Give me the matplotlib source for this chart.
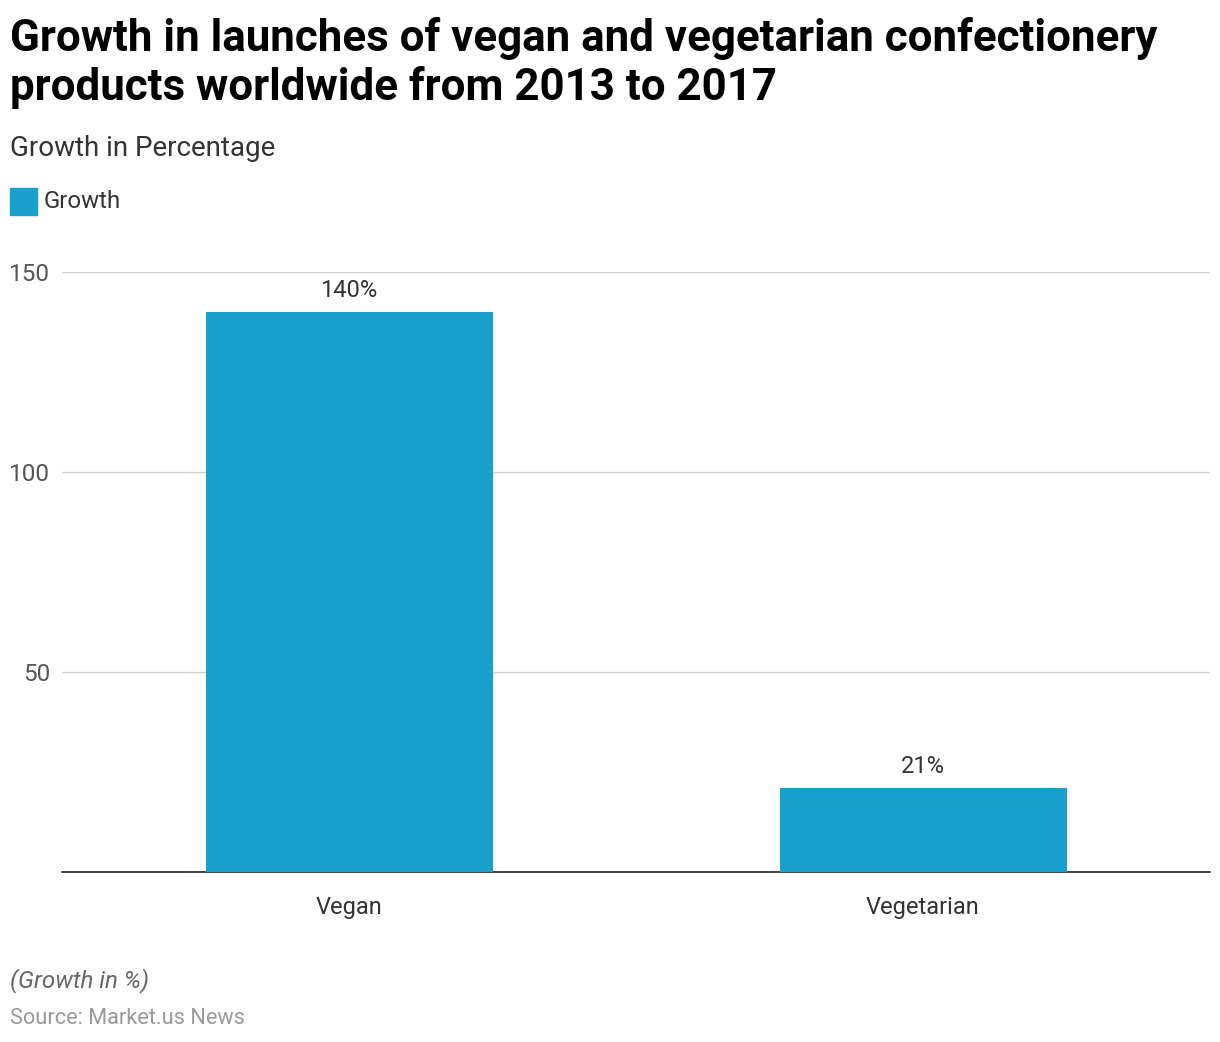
import matplotlib.pyplot as plt
from matplotlib.patches import Rectangle

plt.rcParams['font.family'] = ['Roboto', 'DejaVu Sans']

categories = ['Vegan', 'Vegetarian']
growth = [140, 21]
labels = ['140%', '21%']
yticks = [50, 100, 150]

bar_color = '#19a1cd'

fig = plt.figure(figsize=(12.2, 10.42), dpi=100)
ax = fig.add_axes([62 / 1220, 1 - 872 / 1042, 1148 / 1220, 600 / 1042])

x = range(len(categories))
bars = ax.bar(x, growth, width=0.5, color=bar_color, zorder=3)
for b, lab in zip(bars, labels):
    ax.annotate(lab, (b.get_x() + b.get_width() / 2, b.get_height()),
                xytext=(0, 7), textcoords='offset points',
                ha='center', va='bottom', fontsize=17, color='#333333')

ax.set_xlim(-0.5, 1.5)
ax.set_ylim(0, 150)
ax.set_yticks(yticks)
ax.set_xticks(list(x))
ax.set_xticklabels(categories)
ax.grid(axis='y', color='#d0d0d0', linewidth=1, zorder=0)
for s in ['top', 'right', 'left']:
    ax.spines[s].set_visible(False)
ax.spines['bottom'].set_color('#222222')
ax.spines['bottom'].set_linewidth(1.2)
ax.tick_params(axis='y', length=0, labelsize=17.5, labelcolor='#555555', pad=8.5)
ax.tick_params(axis='x', length=0, labelsize=17, labelcolor='#333333', pad=17)

fig.text(10 / 1220, 1 - 51 / 1042, 'Growth in launches of vegan and vegetarian confectionery',
         fontsize=31.6, fontweight='bold', color='#000000', va='baseline', ha='left')
fig.text(10 / 1220, 1 - 100 / 1042, 'products worldwide from 2013 to 2017',
         fontsize=31.6, fontweight='bold', color='#000000', va='baseline', ha='left')
fig.text(10 / 1220, 1 - 149 / 1042, 'Growth in Percentage', fontsize=20, color='#333333', va='center')
fig.patches.append(Rectangle((10 / 1220, 1 - 215 / 1042), 27 / 1220, 27 / 1042,
                             transform=fig.transFigure, color=bar_color))
fig.text(44 / 1220, 1 - 202 / 1042, 'Growth', fontsize=17.3, color='#333333', va='center')
fig.text(10 / 1220, 1 - 981 / 1042, '(Growth in %)', fontsize=17.4, style='italic', color='#666666', va='center')
fig.text(10 / 1220, 1 - 1019 / 1042, 'Source: Market.us News', fontsize=15.7, color='#999999', va='center')

fig.savefig('out.png', dpi=100)
